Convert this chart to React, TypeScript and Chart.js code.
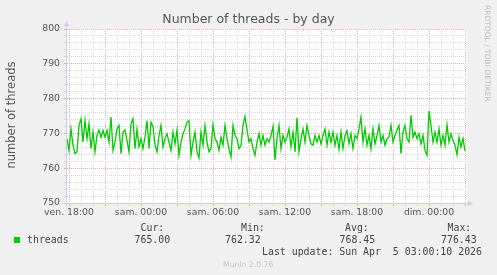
import React, { useEffect, useRef } from "react";
import { Chart, registerables } from "chart.js";

Chart.register(...registerables);

// Number of threads, one reading every 10 minutes, starting ven. 17:50
const threads = [
  768.5, 765.1, 771.3, 766.6, 764.2, 764.7, 772.3, 774.2, 767.5, 773.7,
  768.5, 772.8, 765.6, 770.4, 764.7, 769.4, 771.0, 768.9, 770.9, 769.0,
  770.9, 767.5, 774.7, 765.1, 767.5, 771.3, 772.3, 764.2, 770.4, 771.0,
  768.0, 764.7, 772.8, 774.2, 765.6, 771.3, 766.2, 768.5, 765.6, 768.9,
  773.7,
  765.6, 773.2, 772.0, 766.6, 764.7, 769.4, 772.3, 766.1, 768.5, 769.9,
  767.5, 765.1, 770.4, 767.0, 770.9, 763.7, 767.5, 769.9, 771.3, 773.2,
  773.7, 763.7, 767.5, 770.4, 764.7, 762.9, 770.4, 766.6, 772.3, 767.5,
  764.7, 765.6, 772.5, 768.5, 767.5, 765.1, 768.9, 766.6, 772.3, 768.5,
  765.6, 763.2, 772.3, 769.4, 768.5, 765.6, 766.6, 772.3, 774.9, 771.0,
  767.5, 768.5, 765.6, 763.7, 767.5, 769.9, 766.6, 769.4, 766.6, 768.5,
  767.5, 769.4, 772.0, 762.4, 768.5, 772.3, 765.6, 769.4, 767.5, 768.9,
  771.3, 766.1, 770.4, 764.7, 774.5, 764.7, 768.5, 771.3, 767.5, 772.3,
  769.4, 767.0, 766.6, 769.4, 767.5, 769.4, 767.0, 769.4, 771.3, 766.6,
  770.4, 767.5, 770.4, 766.6, 769.4, 765.4, 770.4, 765.6, 769.4, 770.8,
  767.0, 769.9, 765.6, 769.4, 768.5, 771.3, 774.7, 767.5, 771.3, 766.6,
  769.4, 765.6, 771.3, 767.0, 769.4, 772.3, 767.5, 769.4, 766.6, 768.5,
  768.9, 772.3, 767.5, 769.4, 770.9, 772.3, 764.2, 770.4, 772.3, 768.5,
  767.5, 775.2, 768.9, 770.4, 768.5, 769.9, 767.0, 769.4, 765.1, 763.7,
  776.43, 772.3, 767.5, 770.4, 767.5, 771.3, 766.6, 769.4, 766.6, 772.5,
  767.5, 769.9, 768.0, 766.6, 763.9, 768.9, 766.1, 768.5, 765.0,
];

// time axis in minutes relative to ven. 18:00
const START_MIN = -10;
const STEP_MIN = 10;
const X_MIN = -10;
const X_MAX = 1990;
const xLabelMinutes = [0, 360, 720, 1080, 1440, 1800];
const xTickLabels = ["ven. 18:00", "sam. 00:00", "sam. 06:00", "sam. 12:00", "sam. 18:00", "dim. 00:00"];

const Y_MIN = 750;
const Y_MAX = 800;
const yLabelValues = [750, 760, 770, 780, 790, 800];

const legendName = "threads";
const legendHeads = ["Cur:", "Min:", "Avg:", "Max:"];
const legendValues = ["765.00", "762.32", "768.45", "776.43"];
const lastUpdate = "Last update: Sun Apr  5 03:00:10 2026";
const titleText = "Number of threads - by day";
const yAxisTitle = "number of threads";
const watermark = "RRDTOOL / TOBI OETIKER";
const footer = "Munin 2.0.76";

const MAJOR = "#e8acac";
const MINOR = "#d9d9d9";
const AXIS = "#c8ccf4";
const LINE = "#00cc00";

const decorPlugin = {
  id: "muninDecor",
  beforeDraw(chart: any) {
    const { ctx, chartArea: ca } = chart;
    ctx.save();
    ctx.fillStyle = "#f0f0f0";
    ctx.fillRect(0, 0, chart.width, chart.height);
    ctx.fillStyle = "#ffffff";
    ctx.fillRect(ca.left, ca.top, ca.right - ca.left, ca.bottom - ca.top);
    ctx.restore();
  },
  afterDraw(chart: any) {
    const { ctx, chartArea: ca } = chart;
    ctx.save();
    // axes with arrows
    ctx.strokeStyle = AXIS;
    ctx.fillStyle = AXIS;
    ctx.lineWidth = 1;
    const ax = ca.left - 0.5;
    const ay = ca.bottom + 0.5;
    ctx.beginPath();
    ctx.moveTo(ax, ay + 3);
    ctx.lineTo(ax, ca.top - 3);
    ctx.moveTo(ax - 3, ay);
    ctx.lineTo(ca.right + 2, ay);
    ctx.stroke();
    ctx.beginPath();
    ctx.moveTo(ax - 2.5, ca.top - 3);
    ctx.lineTo(ax + 2.5, ca.top - 3);
    ctx.lineTo(ax, ca.top - 8);
    ctx.closePath();
    ctx.fill();
    ctx.beginPath();
    ctx.moveTo(ca.right + 1, ay - 2.5);
    ctx.lineTo(ca.right + 1, ay + 2.5);
    ctx.lineTo(ca.right + 6, ay);
    ctx.closePath();
    ctx.fill();

    // title
    ctx.fillStyle = "#555555";
    ctx.font = "12.5px 'DejaVu Sans'";
    ctx.textAlign = "center";
    ctx.textBaseline = "alphabetic";
    ctx.fillText(titleText, chart.width / 2, 23);

    // y axis title
    ctx.save();
    ctx.translate(15, 115);
    ctx.rotate(-Math.PI / 2);
    ctx.font = "11.5px 'DejaVu Sans'";
    ctx.fillStyle = "#555555";
    ctx.textAlign = "center";
    ctx.fillText(yAxisTitle, 0, 0);
    ctx.restore();

    // watermark
    ctx.save();
    ctx.translate(485, 5);
    ctx.rotate(Math.PI / 2);
    ctx.font = "7.5px 'DejaVu Sans'";
    ctx.fillStyle = "#bdbdbd";
    ctx.textAlign = "left";
    ctx.fillText(watermark, 0, 0);
    ctx.restore();

    // legend
    ctx.fillStyle = LINE;
    ctx.fillRect(14, 237, 6, 6);
    ctx.font = "9.9px 'DejaVu Sans Mono'";
    ctx.fillStyle = "#444444";
    ctx.textAlign = "left";
    ctx.fillText(legendName, 27, 243);
    const headX = [140.5, 241, 345, 447.5];
    const valX = [134.5, 225, 339.5, 441];
    legendHeads.forEach((h, i) => ctx.fillText(h, headX[i], 231));
    legendValues.forEach((v, i) => ctx.fillText(v, valX[i], 243));
    ctx.fillText(lastUpdate, 262, 255);

    ctx.font = "7.7px 'DejaVu Sans'";
    ctx.fillStyle = "#c4c4c4";
    ctx.fillText(footer, 223, 267);
    ctx.restore();
  },
};

export default function App() {
  const canvasRef = useRef<HTMLCanvasElement | null>(null);

  useEffect(() => {
    if (!canvasRef.current) return;
    const hourTicks: number[] = [];
    for (let m = 0; m <= X_MAX; m += 60) hourTicks.push(m);

    const chart = new Chart(canvasRef.current, {
      type: "line",
      data: {
        datasets: [
          {
            data: threads.map((v, i) => ({ x: START_MIN + i * STEP_MIN, y: v })),
            borderColor: LINE,
            borderWidth: 1.3,
            pointRadius: 0,
            tension: 0,
            fill: false,
          },
        ],
      },
      options: {
        animation: false,
        responsive: false,
        maintainAspectRatio: false,
        layout: { padding: { top: 29, right: 30, left: 0, bottom: 0 } },
        plugins: {
          legend: { display: false },
          tooltip: { enabled: false },
          title: { display: false },
        },
        scales: {
          x: {
            type: "linear",
            min: X_MIN,
            max: X_MAX,
            afterBuildTicks: (s: any) => {
              s.ticks = hourTicks.map((v) => ({ value: v }));
            },
            afterFit: (s: any) => {
              s.height = 72;
            },
            ticks: {
              autoSkip: false,
              maxRotation: 0,
              minRotation: 0,
              padding: 1,
              color: "#555555",
              font: { family: "DejaVu Sans", size: 9.3 },
              callback: (v: any) => {
                const k = xLabelMinutes.indexOf(Number(v));
                return k >= 0 ? xTickLabels[k] : "";
              },
            },
            grid: {
              color: (c: any) => (c.tick && c.tick.value % 180 === 0 ? MAJOR : MINOR),
              tickColor: (c: any) => (c.tick && c.tick.value % 180 === 0 ? MAJOR : MINOR),
              tickLength: 3,
              lineWidth: 1,
            },
            border: { display: false, dash: [1, 1] },
          },
          y: {
            type: "linear",
            min: Y_MIN,
            max: Y_MAX,
            afterFit: (s: any) => {
              s.width = 67;
            },
            ticks: {
              stepSize: 2,
              autoSkip: false,
              padding: 4,
              color: "#555555",
              font: { family: "DejaVu Sans", size: 9.3 },
              callback: (v: any) => (yLabelValues.includes(Number(v)) ? String(v) : ""),
            },
            grid: {
              color: (c: any) => (c.tick && yLabelValues.includes(c.tick.value) ? MAJOR : MINOR),
              tickColor: (c: any) => (c.tick && yLabelValues.includes(c.tick.value) ? MAJOR : MINOR),
              tickLength: 3,
              lineWidth: 1,
            },
            border: { display: false, dash: [1, 1] },
          },
        },
      },
      plugins: [decorPlugin],
    });
    return () => chart.destroy();
  }, []);

  return (
    <div style={{ position: "absolute", left: 0, top: 0, width: 497, height: 275 }}>
      <canvas ref={canvasRef} width={497} height={275} style={{ display: "block" }} />
    </div>
  );
}
